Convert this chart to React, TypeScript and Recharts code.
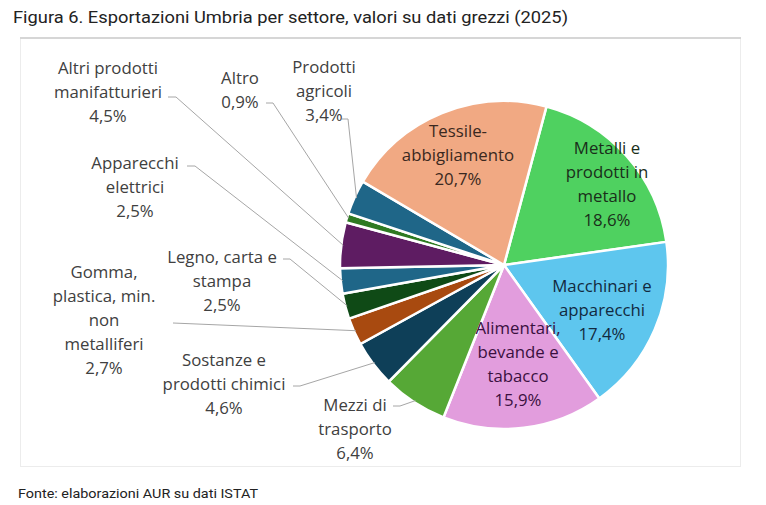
import React from 'react';
import { PieChart, Pie, Cell } from 'recharts';

const sectors = [
  'Metalli e prodotti in metallo',
  'Macchinari e apparecchi',
  'Alimentari, bevande e tabacco',
  'Mezzi di trasporto',
  'Sostanze e prodotti chimici',
  'Gomma, plastica, min. non metalliferi',
  'Legno, carta e stampa',
  'Apparecchi elettrici',
  'Altri prodotti manifatturieri',
  'Altro',
  'Prodotti agricoli',
  'Tessile-abbigliamento',
];
const shares = [18.6, 17.4, 15.9, 6.4, 4.6, 2.7, 2.5, 2.5, 4.5, 0.9, 3.4, 20.7];
const colors = [
  '#4fd160', '#5ec6ee', '#e29ddd', '#56a836', '#0e3f58', '#a84a10',
  '#0f4a16', '#1f6688', '#5e1c62', '#2e7a22', '#1f6688', '#f1a983',
];

const titleText = 'Figura 6. Esportazioni Umbria per settore, valori su dati grezzi (2025)';
const sourceText = 'Fonte: elaborazioni AUR su dati ISTAT';

type LabelLayout = {
  lines: string[];
  x: number;
  y: number;
  color: string;
  leader?: [number, number][];
};

const labelLayout: Record<string, LabelLayout> = {
  'Metalli e prodotti in metallo': { lines: ['Metalli e', 'prodotti in', 'metallo'], x: 607, y: 147, color: '#1a2e1a' },
  'Macchinari e apparecchi': { lines: ['Macchinari e', 'apparecchi'], x: 602, y: 285, color: '#122a40' },
  'Alimentari, bevande e tabacco': { lines: ['Alimentari,', 'bevande e', 'tabacco'], x: 518, y: 327, color: '#3a1040' },
  'Tessile-abbigliamento': { lines: ['Tessile-', 'abbigliamento'], x: 458, y: 130, color: '#3a2820' },
  'Mezzi di trasporto': { lines: ['Mezzi di', 'trasporto'], x: 355, y: 404, color: '#404040', leader: [[393, 406], [400, 406]] },
  'Sostanze e prodotti chimici': { lines: ['Sostanze e', 'prodotti chimici'], x: 224, y: 359, color: '#404040', leader: [[293, 386], [300, 386]] },
  'Gomma, plastica, min. non metalliferi': { lines: ['Gomma,', 'plastica, min.', 'non', 'metalliferi'], x: 104, y: 271, color: '#404040', leader: [[173, 323]] },
  'Legno, carta e stampa': { lines: ['Legno, carta e', 'stampa'], x: 222, y: 256, color: '#404040', leader: [[283, 259], [290, 259]] },
  'Apparecchi elettrici': { lines: ['Apparecchi', 'elettrici'], x: 135, y: 162, color: '#404040', leader: [[187, 166], [195, 166]] },
  'Altri prodotti manifatturieri': { lines: ['Altri prodotti', 'manifatturieri'], x: 108, y: 67, color: '#404040', leader: [[168, 97], [176, 97]] },
  'Altro': { lines: ['Altro'], x: 240, y: 77, color: '#404040', leader: [[266, 103], [273, 103]] },
  'Prodotti agricoli': { lines: ['Prodotti', 'agricoli'], x: 324, y: 66, color: '#404040', leader: [[342, 119], [348, 119]] },
};

const data = sectors.map((name, i) => ({ name, value: shares[i] }));

const fmt = (v: number) => v.toFixed(1).replace('.', ',') + '%';
const RAD = Math.PI / 180;
const LINE_H = 24;

const renderLabel = (props: any) => {
  const { cx, cy, midAngle, outerRadius, name, value } = props;
  const lay = labelLayout[name];
  if (!lay) return null;
  const lines = [...lay.lines, fmt(value)];
  let leader: React.ReactNode = null;
  if (lay.leader) {
    const ex = cx + (outerRadius - 2) * Math.cos(-midAngle * RAD);
    const ey = cy + (outerRadius - 2) * Math.sin(-midAngle * RAD);
    const pts = [...lay.leader, [ex, ey]].map((p) => p.join(',')).join(' ');
    leader = <polyline points={pts} fill="none" stroke="#a6a6a6" strokeWidth={1} />;
  }
  return (
    <g key={'lbl-' + name}>
      {leader}
      {lines.map((t, i) => (
        <text
          key={i}
          x={lay.x}
          y={lay.y + i * LINE_H}
          textAnchor="middle"
          dominantBaseline="central"
          fill={lay.color}
          fontSize={16.8}
          fontFamily="'Open Sans', 'Noto Sans', sans-serif"
        >
          {t}
        </text>
      ))}
    </g>
  );
};

export default function App() {
  return (
    <div style={{ position: 'absolute', left: 0, top: 0, width: 766, height: 505, background: '#fff', overflow: 'hidden' }}>
      <svg width={766} height={505} style={{ position: 'absolute', left: 0, top: 0 }}>
        <text x={13} y={23} fontSize={17} fill="#222" fontFamily="Roboto, 'DejaVu Sans', sans-serif" textLength={555} lengthAdjust="spacingAndGlyphs">
          {titleText}
        </text>
        <rect x={20.5} y={38.5} width={720} height={428} fill="none" stroke="#ececec" strokeWidth={1} />
        <line x1={20} y1={38} x2={741} y2={38} stroke="#d6d6d6" strokeWidth={2} />
        <text x={18} y={498} fontSize={13} fill="#222" fontFamily="Roboto, 'DejaVu Sans', sans-serif" textLength={240} lengthAdjust="spacingAndGlyphs">
          {sourceText}
        </text>
      </svg>
      <div style={{ position: 'absolute', left: 0, top: 0 }}>
        <PieChart width={766} height={505}>
          <Pie
            data={data}
            dataKey="value"
            nameKey="name"
            cx={499}
            cy={260}
            outerRadius={164}
            startAngle={75}
            endAngle={-285}
            stroke="#ffffff"
            strokeWidth={2.5}
            label={renderLabel}
            labelLine={false}
            isAnimationActive={false}
          >
            {data.map((d, i) => (
              <Cell key={d.name} fill={colors[i]} />
            ))}
          </Pie>
        </PieChart>
      </div>
    </div>
  );
}
